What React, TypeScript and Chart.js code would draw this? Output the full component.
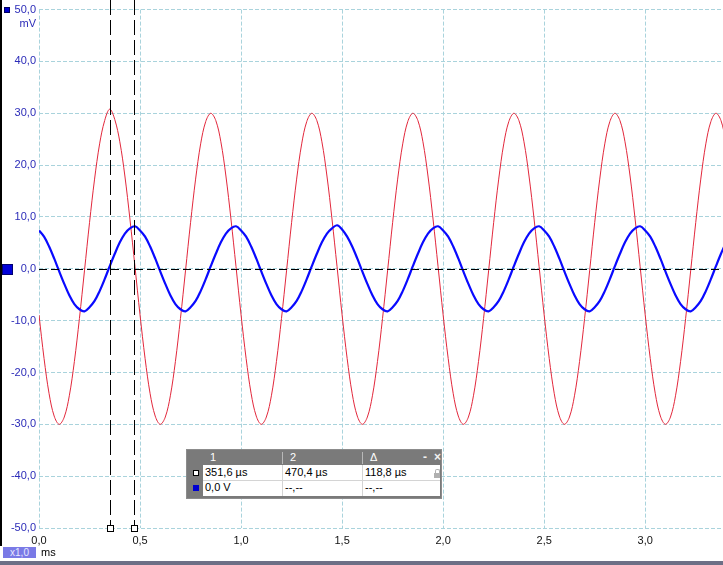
import React, { useEffect, useRef } from "react";
import { Chart, registerables } from "chart.js";

Chart.register(...registerables);

// ---- data ----
const SAMPLE_STEP_MS = 0.025; // sampling interval of the traces (ms)

// Channel A (red), mV, one sample every 0.025 ms starting at 0 ms
const redValues = [
  -8.9, -17.3, -24.1, -28.4, -30.0, -28.6, -24.5, -17.9, -9.6, -0.4,
  8.9, 17.3, 24.1, 28.6, 30.8, 28.8, 24.5, 17.9, 9.6, 0.4,
  -8.9, -17.3, -24.1, -28.4, -30.0, -28.6, -24.5, -17.9, -9.6, -0.4,
  8.9, 17.3, 24.1, 28.4, 30.0, 28.6, 24.5, 17.9, 9.6, 0.4,
  -8.9, -17.3, -24.1, -28.4, -30.0, -28.6, -24.5, -17.9, -9.6, -0.4,
  8.9, 17.3, 24.1, 28.4, 30.0, 28.6, 24.5, 17.9, 9.6, 0.4,
  -8.9, -17.3, -24.1, -28.4, -30.0, -28.6, -24.5, -17.9, -9.6, -0.4,
  8.9, 17.3, 24.1, 28.4, 30.0, 28.6, 24.5, 17.9, 9.6, 0.4,
  -8.9, -17.3, -24.1, -28.4, -30.0, -28.6, -24.5, -17.9, -9.6, -0.4,
  8.9, 17.3, 24.1, 28.4, 30.0, 28.6, 24.5, 17.9, 9.6, 0.4,
  -8.9, -17.3, -24.1, -28.4, -30.0, -28.6, -24.5, -17.9, -9.6, -0.4,
  8.9, 17.3, 24.1, 28.4, 30.0, 28.6, 24.5, 17.9, 9.6, 0.4,
  -8.9, -17.3, -24.1, -28.4, -30.0, -28.6, -24.5, -17.9, -9.6, -0.4,
  8.9, 17.3, 24.1, 28.4, 30.0, 28.6, 24.5,
];

// Channel B (blue), mV, same sampling
const blueValues = [
  7.4, 6.2, 4.3, 2.0, -0.5, -2.9, -5.1, -6.8, -7.8, -8.2,
  -7.4, -6.2, -4.3, -2.0, 0.5, 2.9, 5.1, 6.8, 7.8, 8.2,
  7.4, 6.2, 4.3, 2.0, -0.5, -2.9, -5.1, -6.8, -7.8, -8.2,
  -7.4, -6.2, -4.3, -2.0, 0.5, 2.9, 5.1, 6.8, 7.8, 8.2,
  7.4, 6.2, 4.3, 2.0, -0.5, -2.9, -5.1, -6.8, -7.8, -8.2,
  -7.4, -6.2, -4.3, -2.0, 0.5, 2.9, 5.1, 6.8, 7.8, 8.4,
  7.6, 6.2, 4.3, 2.0, -0.5, -2.9, -5.1, -6.8, -7.8, -8.2,
  -7.4, -6.2, -4.3, -2.0, 0.5, 2.9, 5.1, 6.8, 7.8, 8.2,
  7.4, 6.2, 4.3, 2.0, -0.5, -2.9, -5.1, -6.8, -7.8, -8.2,
  -7.4, -6.2, -4.3, -2.0, 0.5, 2.9, 5.1, 6.8, 7.8, 8.2,
  7.4, 6.2, 4.3, 2.0, -0.5, -2.9, -5.1, -6.8, -7.8, -8.2,
  -7.4, -6.2, -4.3, -2.0, 0.5, 2.9, 5.1, 6.8, 7.8, 8.2,
  7.4, 6.2, 4.3, 2.0, -0.5, -2.9, -5.1, -6.8, -7.8, -8.2,
  -7.4, -6.2, -4.3, -2.0, 0.5, 2.9, 5.1,
];

const cursorTimesMs = [0.3516, 0.4704];
const X_MIN = 0;
const X_MAX = 3.385;
const X_STEP = 0.5;
const Y_MIN = -50;
const Y_MAX = 50;
const Y_STEP = 10;
const yUnit = "mV";
const xUnit = "ms";
const zoomLabel = "x1,0";

const tableHeader = ["1", "2", "Δ"];
const tableRowTime = ["351,6 µs", "470,4 µs", "118,8 µs"];
const tableRowVolt = ["0,0 V", "--,--", "--,--"];

// ---- styles ----
const RED = "#e2283c";
const BLUE = "#0a0aff";
const GRID = "#a9d3dc";
const AXIS_BLUE = "#2b2bb8";
const FONT = "'Liberation Sans', Arial, sans-serif";

const fmt = (v: number) => Number(v).toFixed(1).replace(".", ",");

const overlayPlugin = {
  id: "overlay",
  afterDatasetsDraw(chart: any) {
    const { ctx, chartArea } = chart;
    const x = chart.scales.x;
    const y = chart.scales.y;
    ctx.save();
    // zero reference line
    const y0 = Math.round(y.getPixelForValue(0)) + 0.5;
    ctx.strokeStyle = "#000";
    ctx.lineWidth = 1;
    ctx.setLineDash([8, 4]);
    ctx.beginPath();
    ctx.moveTo(chartArea.left, y0);
    ctx.lineTo(chartArea.right, y0);
    ctx.stroke();

    // cursors
    const yBottom = Math.round(y.getPixelForValue(Y_MIN));
    ctx.setLineDash([15, 5]);
    cursorTimesMs.forEach((t) => {
      const px = Math.round(x.getPixelForValue(t)) + 0.5;
      ctx.beginPath();
      ctx.moveTo(px, 0);
      ctx.lineTo(px, yBottom - 3);
      ctx.stroke();
    });
    ctx.setLineDash([]);
    cursorTimesMs.forEach((t) => {
      const px = Math.round(x.getPixelForValue(t));
      ctx.fillStyle = "#fff";
      ctx.fillRect(px - 3, yBottom - 3, 7, 7);
      ctx.strokeStyle = "#000";
      ctx.strokeRect(px - 2.5, yBottom - 2.5, 6, 6);
    });

    // channel zero marker on the left
    const yz = Math.round(y.getPixelForValue(0));
    ctx.fillStyle = "#0000d8";
    ctx.fillRect(2, yz - 5, 11, 11);
    ctx.strokeStyle = "#000070";
    ctx.strokeRect(2.5, yz - 4.5, 10, 10);
    // small channel marker at the top
    const yt = Math.round(y.getPixelForValue(Y_MAX));
    ctx.fillStyle = "#0000d0";
    ctx.fillRect(4, yt - 3, 6, 6);
    ctx.strokeStyle = "#000060";
    ctx.strokeRect(4.5, yt - 2.5, 5, 5);
    ctx.restore();
  },
};

export default function App() {
  const canvasRef = useRef<HTMLCanvasElement | null>(null);

  useEffect(() => {
    const canvas = canvasRef.current;
    if (!canvas) return;
    const redData = redValues.map((v, i) => ({ x: i * SAMPLE_STEP_MS, y: v }));
    const blueData = blueValues.map((v, i) => ({ x: i * SAMPLE_STEP_MS, y: v }));
    const chart = new Chart(canvas, {
      type: "line",
      data: {
        datasets: [
          {
            label: "B",
            data: blueData,
            borderColor: BLUE,
            borderWidth: 2.2,
            pointRadius: 0,
            tension: 0.35,
            fill: false,
          },
          {
            label: "A",
            data: redData,
            borderColor: RED,
            borderWidth: 1,
            pointRadius: 0,
            tension: 0.35,
            fill: false,
          },
        ],
      },
      options: {
        animation: false,
        responsive: false,
        devicePixelRatio: 1,
        layout: { padding: { top: 8, left: 0, right: 0, bottom: 0 } },
        plugins: {
          legend: { display: false },
          tooltip: { enabled: false },
        },
        scales: {
          x: {
            type: "linear",
            min: X_MIN,
            max: X_MAX,
            grid: { color: GRID, lineWidth: 1, drawTicks: false },
            border: { display: false, dash: [4, 2] },
            ticks: {
              stepSize: X_STEP,
              includeBounds: false,
              maxRotation: 0,
              autoSkip: false,
              padding: 6,
              color: "#111",
              font: { family: FONT, size: 11 },
              callback: (v: any) => fmt(v),
            },
            afterFit: (s: any) => {
              s.height = 37;
            },
          },
          y: {
            type: "linear",
            min: Y_MIN,
            max: Y_MAX,
            grid: { color: GRID, lineWidth: 1, drawTicks: false },
            border: { display: false, dash: [4, 2] },
            ticks: {
              stepSize: Y_STEP,
              padding: 3,
              color: AXIS_BLUE,
              font: { family: FONT, size: 11 },
              callback: (v: any) => fmt(v),
            },
            afterFit: (s: any) => {
              s.width = 39;
            },
          },
        },
      },
      plugins: [overlayPlugin],
    } as any);
    return () => chart.destroy();
  }, []);

  const cellText: React.CSSProperties = {
    position: "absolute",
    fontFamily: FONT,
    fontSize: 11,
    lineHeight: "13px",
    whiteSpace: "nowrap",
  };
  const colLeft = [17, 97, 177];

  return (
    <div
      style={{
        position: "fixed",
        left: 0,
        top: 0,
        width: 723,
        height: 565,
        background: "#fff",
        overflow: "hidden",
      }}
    >
      <canvas ref={canvasRef} width={723} height={565} style={{ position: "absolute", left: 0, top: 0, width: 723, height: 565 }} />
      {/* left dark strip */}
      <div style={{ position: "absolute", left: 0, top: 0, width: 2, height: 546, background: "#000" }} />
      {/* y unit */}
      <div style={{ ...cellText, right: 723 - 36, top: 17, color: AXIS_BLUE, textAlign: "right" }}>{yUnit}</div>
      {/* zoom box and x unit */}
      <div
        style={{
          ...cellText,
          left: 3,
          top: 547,
          width: 33,
          height: 11,
          lineHeight: "11px",
          background: "#7a7ae6",
          color: "#e8e8ff",
          fontSize: 10,
          textAlign: "center",
        }}
      >
        {zoomLabel}
      </div>
      <div style={{ ...cellText, left: 41, top: 546, color: "#000" }}>{xUnit}</div>
      {/* bottom bar */}
      <div style={{ position: "absolute", left: 0, top: 561, width: 723, height: 4, background: "#6d6f86" }} />

      {/* cursor table */}
      <div style={{ position: "absolute", left: 186, top: 449, width: 256, height: 50, background: "#8c8c8c" }}>
        <div style={{ position: "absolute", left: 1, top: 1, width: 254, height: 48, background: "#7a7a7a" }} />
        {/* header separators */}
        <div style={{ position: "absolute", left: 96, top: 3, width: 1, height: 12, background: "#b8b8b8" }} />
        <div style={{ position: "absolute", left: 176, top: 3, width: 1, height: 12, background: "#b8b8b8" }} />
        {tableHeader.map((h, i) => (
          <div key={h} style={{ ...cellText, left: colLeft[i] + 7, top: 2, color: "#fff" }}>
            {h}
          </div>
        ))}
        <div style={{ ...cellText, left: 237, top: 2, color: "#f0f0f0", fontWeight: "bold", fontSize: 12 }}>-</div>
        <div style={{ ...cellText, left: 248, top: 2, color: "#f0f0f0", fontWeight: "bold", fontSize: 12 }}>×</div>
        {/* rows */}
        <div style={{ position: "absolute", left: 17, top: 16, width: 237, height: 31, background: "#fff" }} />
        <div style={{ position: "absolute", left: 17, top: 31, width: 237, height: 1, background: "#d4d4d4" }} />
        <div style={{ position: "absolute", left: 96, top: 16, width: 1, height: 31, background: "#d4d4d4" }} />
        <div style={{ position: "absolute", left: 176, top: 16, width: 1, height: 31, background: "#d4d4d4" }} />
        {/* markers */}
        <div style={{ position: "absolute", left: 7, top: 21, width: 4, height: 4, background: "#fff", border: "1px solid #000" }} />
        <div style={{ position: "absolute", left: 7, top: 36, width: 6, height: 6, background: "#0000d0" }} />
        {tableRowTime.map((t, i) => (
          <div key={"t" + i} style={{ ...cellText, left: colLeft[i] + 2, top: 17, color: "#000" }}>
            {t}
          </div>
        ))}
        {tableRowVolt.map((t, i) => (
          <div key={"v" + i} style={{ ...cellText, left: colLeft[i] + 2, top: 32, color: "#000" }}>
            {t}
          </div>
        ))}
        {/* lock icon */}
        <div style={{ position: "absolute", left: 248, top: 24, width: 6, height: 5, background: "#b0b0b0" }} />
        <div style={{ position: "absolute", left: 249, top: 20, width: 3, height: 3, border: "1px solid #b0b0b0", borderBottom: "none", borderRadius: "2px 2px 0 0" }} />
      </div>
    </div>
  );
}
